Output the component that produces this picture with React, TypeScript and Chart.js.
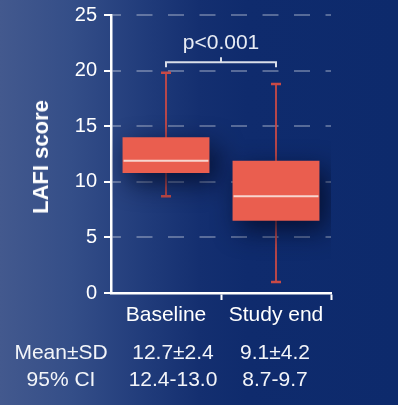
import React, { useEffect, useRef } from "react";
import { Chart, registerables } from "chart.js";

Chart.register(...registerables);

// ---- data ----
const categories = ["Baseline", "Study end"];
const whiskerLow = [8.7, 1.0];
const q1 = [10.8, 6.5];
const median = [11.9, 8.7];
const q3 = [14.0, 11.9];
const whiskerHigh = [19.8, 18.8];
const yTicks = [0, 5, 10, 15, 20, 25];
const pLabel = "p<0.001";
const bracketLevel = 20.75;
const tableRowLabels = ["Mean±SD", "95% CI"];
const meanSd = ["12.7±2.4", "9.1±4.2"];
const ci95 = ["12.4-13.0", "8.7-9.7"];

const FONT = "'Liberation Sans', Arial, Helvetica, sans-serif";
const BOX_COLOR = "#EA5E4F";
const WHISKER_COLOR = "#C94A46";
const MEDIAN_COLOR = "#F7D6CF";

const boxPlugin = {
  id: "boxExtras",
  beforeDatasetsDraw(chart: any) {
    const ctx = chart.ctx;
    const x = chart.scales.x;
    const y = chart.scales.y;
    ctx.save();
    ctx.strokeStyle = WHISKER_COLOR;
    categories.forEach((_, i) => {
      const cx = x.getPixelForValue(i);
      const yl = y.getPixelForValue(whiskerLow[i]);
      const yh = y.getPixelForValue(whiskerHigh[i]);
      ctx.lineWidth = 1.8;
      ctx.beginPath();
      ctx.moveTo(cx, yl);
      ctx.lineTo(cx, yh);
      ctx.stroke();
      ctx.lineWidth = 2.5;
      ctx.beginPath();
      ctx.moveTo(cx - 5, yl);
      ctx.lineTo(cx + 5, yl);
      ctx.moveTo(cx - 5, yh);
      ctx.lineTo(cx + 5, yh);
      ctx.stroke();
    });
    ctx.restore();
    ctx.save();
    ctx.shadowColor = "rgba(3, 12, 40, 0.85)";
    ctx.shadowBlur = 26;
    ctx.shadowOffsetX = 7;
    ctx.shadowOffsetY = 9;
  },
  afterDatasetsDraw(chart: any) {
    const ctx = chart.ctx;
    ctx.restore();
    const x = chart.scales.x;
    const y = chart.scales.y;
    const meta = chart.getDatasetMeta(0);
    ctx.save();
    ctx.strokeStyle = MEDIAN_COLOR;
    ctx.lineWidth = 2;
    meta.data.forEach((bar: any, i: number) => {
      const w = bar.width;
      const my = y.getPixelForValue(median[i]);
      ctx.beginPath();
      ctx.moveTo(bar.x - w / 2 + 1, my);
      ctx.lineTo(bar.x + w / 2 - 1, my);
      ctx.stroke();
    });
    // significance bracket
    const x1 = x.getPixelForValue(0);
    const x2 = x.getPixelForValue(1);
    const by = y.getPixelForValue(bracketLevel);
    const mid = (x1 + x2) / 2;
    ctx.strokeStyle = "#D9DEE9";
    ctx.lineWidth = 2;
    ctx.beginPath();
    ctx.moveTo(x1, by + 5);
    ctx.lineTo(x1, by);
    ctx.lineTo(x2, by);
    ctx.lineTo(x2, by + 5);
    ctx.moveTo(mid, by);
    ctx.lineTo(mid, by - 5);
    ctx.stroke();
    ctx.fillStyle = "#E8ECF4";
    ctx.font = `21px ${FONT}`;
    ctx.textAlign = "center";
    ctx.textBaseline = "alphabetic";
    ctx.fillText(pLabel, mid, by - 13.5);
    ctx.restore();
  },
};

export default function App() {
  const ref = useRef<HTMLCanvasElement | null>(null);

  useEffect(() => {
    document.body.style.margin = "0";
    const canvas = ref.current;
    if (!canvas) return;
    const chart = new Chart(canvas, {
      type: "bar",
      data: {
        labels: categories,
        datasets: [
          {
            data: categories.map((_, i) => [q1[i], q3[i]]) as any,
            backgroundColor: BOX_COLOR,
            borderWidth: 0,
            barPercentage: 0.79,
            categoryPercentage: 1,
          },
        ],
      },
      options: {
        animation: false,
        responsive: false,
        devicePixelRatio: 1,
        layout: { padding: { left: 0, right: 67, top: 15, bottom: 0 } },
        plugins: {
          legend: { display: false },
          tooltip: { enabled: false },
          title: { display: false },
        },
        scales: {
          x: {
            type: "category",
            offset: true,
            afterFit: (s: any) => {
              s.height = 112;
              s.paddingLeft = 0;
              s.paddingRight = 0;
            },
            grid: {
              display: true,
              offset: true,
              drawOnChartArea: false,
              drawTicks: true,
              tickLength: 7,
              tickWidth: 2,
              tickColor: (c: any) => (c.index === 0 ? "rgba(0,0,0,0)" : "#FFFFFF"),
            },
            border: { display: true, color: "#FFFFFF", width: 2.5 },
            ticks: {
              color: "#FFFFFF",
              font: { family: FONT, size: 21 },
              padding: 3,
              maxRotation: 0,
            },
          },
          y: {
            min: yTicks[0],
            max: yTicks[yTicks.length - 1],
            afterFit: (s: any) => {
              s.width = 111;
              s.paddingTop = 0;
              s.paddingBottom = 0;
            },
            afterBuildTicks: (s: any) => {
              s.ticks = yTicks.map((v) => ({ value: v }));
            },
            grid: {
              display: true,
              color: (c: any) => (c.tick && c.tick.value === 0 ? "rgba(0,0,0,0)" : "rgba(255,255,255,0.3)"),
              lineWidth: 2,
              drawTicks: true,
              tickLength: 7,
              tickWidth: 2,
              tickColor: "#FFFFFF",
            },
            border: { display: true, color: "#FFFFFF", width: 2.5, dash: [16, 15.5], dashOffset: 7.5 },
            ticks: {
              color: "#FFFFFF",
              font: { family: FONT, size: 20 },
              padding: 7,
            },
          },
        },
      } as any,
      plugins: [boxPlugin],
    });
    return () => chart.destroy();
  }, []);

  const textStyle: React.CSSProperties = {
    position: "absolute",
    fontFamily: FONT,
    fontSize: 21,
    lineHeight: "25px",
    color: "#F3F5F9",
    whiteSpace: "nowrap",
    transform: "translateX(-50%)",
  };
  const rows = [meanSd, ci95];
  const rowTops = [339, 366];
  const colCenters = [173, 275];

  return (
    <div
      style={{
        position: "relative",
        width: 398,
        height: 405,
        overflow: "hidden",
        background:
          "linear-gradient(90deg, #43598e 0%, #344e88 18%, #213c7b 36%, #142f70 50%, #0f2b6d 62%, #0d2a6c 100%)",
      }}
    >
      <canvas
        ref={ref}
        width={398}
        height={405}
        style={{ position: "absolute", left: 0, top: 0, width: 398, height: 405 }}
      />
      <div
        style={{
          position: "absolute",
          left: 40.5,
          top: 157,
          transform: "translate(-50%, -50%) rotate(-90deg)",
          fontFamily: FONT,
          fontWeight: "bold",
          fontSize: 22,
          lineHeight: "26px",
          color: "#FFFFFF",
          whiteSpace: "nowrap",
        }}
      >
        LAFI score
      </div>
      {tableRowLabels.map((label, r) => (
        <React.Fragment key={label}>
          <div style={{ ...textStyle, left: 61, top: rowTops[r] }}>{label}</div>
          {rows[r].map((v, c) => (
            <div key={c} style={{ ...textStyle, left: colCenters[c], top: rowTops[r] }}>
              {v}
            </div>
          ))}
        </React.Fragment>
      ))}
    </div>
  );
}
